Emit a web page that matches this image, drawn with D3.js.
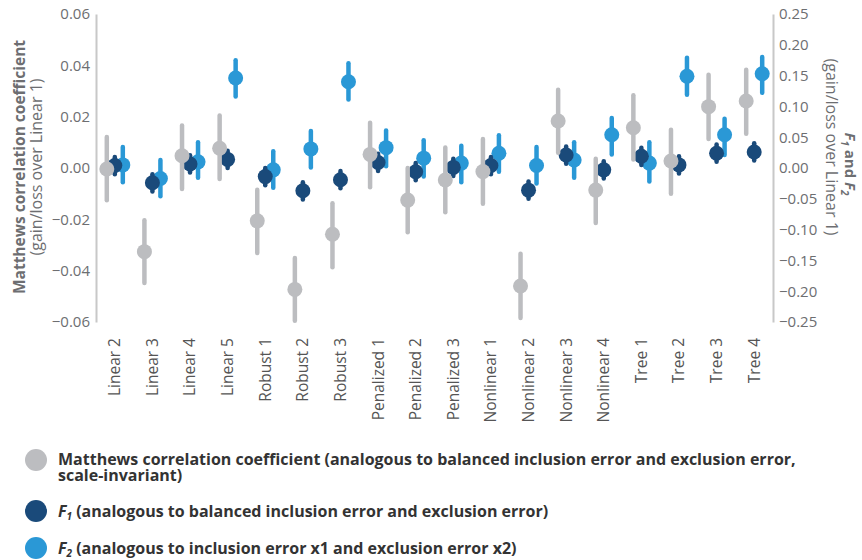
<!DOCTYPE html>
<html><head><meta charset="utf-8">
<script src="https://cdn.jsdelivr.net/npm/d3@7"></script>
<style>
body{margin:0;background:#fff;}
text{font-family:"Open Sans",sans-serif;}
</style></head>
<body><svg id="c" width="862" height="560"></svg>
<script>
const categories = ["Linear 2","Linear 3","Linear 4","Linear 5","Robust 1","Robust 2","Robust 3","Penalized 1","Penalized 2","Penalized 3","Nonlinear 1","Nonlinear 2","Nonlinear 3","Nonlinear 4","Tree 1","Tree 2","Tree 3","Tree 4"];
// Matthews correlation coefficient (left axis)
const mccValue = [-0.0004,-0.0326,0.0048,0.0077,-0.0206,-0.0473,-0.0258,0.0053,-0.0125,-0.0047,-0.0014,-0.0460,0.0183,-0.0086,0.0157,0.0027,0.0239,0.0261];
const mccLow   = [-0.0126,-0.0448,-0.0082,-0.0043,-0.0331,-0.0595,-0.0387,-0.0075,-0.0250,-0.0172,-0.0139,-0.0584,0.0059,-0.0214,0.0033,-0.0100,0.0113,0.0133];
const mccHigh  = [0.0121,-0.0204,0.0166,0.0205,-0.0085,-0.0351,-0.0137,0.0176,0.0000,0.0080,0.0113,-0.0334,0.0305,0.0036,0.0283,0.0149,0.0363,0.0383];
// F1 (right axis)
const f1Value = [0.004,-0.024,0.0065,0.014,-0.014,-0.037,-0.019,0.009,-0.006,0.001,0.004,-0.036,0.021,-0.003,0.019,0.005,0.024,0.026];
const f1Low   = [-0.010,-0.038,-0.0075,0.000,-0.028,-0.051,-0.033,-0.005,-0.020,-0.013,-0.010,-0.050,0.007,-0.017,0.005,-0.009,0.010,0.012];
const f1High  = [0.018,-0.010,0.0205,0.028,0.000,-0.023,-0.005,0.023,0.008,0.015,0.018,-0.022,0.035,0.011,0.033,0.019,0.038,0.040];
// F2 (right axis)
const f2Value = [0.005,-0.017,0.010,0.146,-0.003,0.031,0.140,0.033,0.016,0.008,0.024,0.004,0.013,0.054,0.008,0.149,0.054,0.153];
const f2Low   = [-0.023,-0.046,-0.016,0.116,-0.032,0.001,0.111,0.003,-0.014,-0.023,-0.006,-0.025,-0.016,0.022,-0.022,0.119,0.021,0.122];
const f2High  = [0.034,0.013,0.042,0.175,0.027,0.060,0.170,0.061,0.045,0.036,0.053,0.034,0.042,0.081,0.042,0.179,0.080,0.180];
const leftTicks = [-0.06,-0.04,-0.02,0,0.02,0.04,0.06];
const rightTicks = [-0.25,-0.2,-0.15,-0.1,-0.05,0,0.05,0.1,0.15,0.2,0.25];

const svg = d3.select("#c");
const x = d3.scaleBand().domain(categories).range([96,773]).padding(0);
const yL = d3.scaleLinear().domain([-0.06,0.06]).range([322,14]);
const yR = d3.scaleLinear().domain([-0.25,0.25]).range([322,14]);
const C_GRAY = "#bcbdc0", C_DARK = "#1a4a7a", C_LIGHT = "#2a98d6";
const tickCol = "#6d6e71";

// axes
const axL = svg.append("g").attr("transform","translate(96,0)")
  .call(d3.axisLeft(yL).tickValues(leftTicks).tickFormat(d3.format(".2f")).tickSize(0).tickPadding(6));
const axR = svg.append("g").attr("transform","translate(773,0)")
  .call(d3.axisRight(yR).tickValues(rightTicks).tickFormat(d3.format(".2f")).tickSize(0).tickPadding(6));
[axL,axR].forEach(a=>{
  a.select(".domain").attr("stroke","#c8c8c8").attr("stroke-width",2);
  a.selectAll("text").attr("fill",tickCol).style("font-size","15px").style("font-family","Open Sans");
});
const axB = svg.append("g").attr("transform","translate(0,322)")
  .call(d3.axisBottom(x).tickSize(0).tickPadding(0));
axB.select(".domain").remove();
axB.selectAll("text")
  .attr("transform","rotate(-90)")
  .attr("x",-16).attr("y",0).attr("dy","0.35em")
  .attr("text-anchor","end")
  .attr("fill","#555").style("font-size","15.5px").style("font-family","Open Sans");

// axis titles
svg.append("text").attr("transform","translate(20,167) rotate(-90)").attr("dy","0.35em")
  .attr("text-anchor","middle").attr("fill",tickCol).style("font-weight","700").style("font-size","15.5px")
  .text("Matthews correlation coefficient");
svg.append("text").attr("transform","translate(36,167) rotate(-90)").attr("dy","0.35em")
  .attr("text-anchor","middle").attr("fill",tickCol).style("font-size","16px")
  .text("(gain/loss over Linear 1)");
const rt = svg.append("text").attr("transform","translate(850,164) rotate(90)").attr("dy","0.35em")
  .attr("text-anchor","middle").attr("fill",tickCol).style("font-weight","700").style("font-size","15px");
rt.append("tspan").style("font-style","italic").text("F");
rt.append("tspan").style("font-style","italic").style("font-size","10px").attr("dy","4").text("1");
rt.append("tspan").attr("dy","-4").text(" and ");
rt.append("tspan").style("font-style","italic").text("F");
rt.append("tspan").style("font-style","italic").style("font-size","10px").attr("dy","4").text("2");
svg.append("text").attr("transform","translate(832,147) rotate(90)").attr("dy","0.35em")
  .attr("text-anchor","middle").attr("fill",tickCol).style("font-size","16px")
  .text("(gain/loss over Linear 1)");

// series
const series = [
  {vals:f2Value, lo:f2Low, hi:f2High, y:yR, col:C_LIGHT, off:8},
  {vals:f1Value, lo:f1Low, hi:f1High, y:yR, col:C_DARK, off:0},
  {vals:mccValue, lo:mccLow, hi:mccHigh, y:yL, col:C_GRAY, off:-8}
];
const bw = x.bandwidth();
series.forEach(s=>{
  const g = svg.append("g");
  const data = categories.map((c,i)=>({c, v:s.vals[i], lo:s.lo[i], hi:s.hi[i]}));
  g.selectAll("line").data(data).join("line")
    .attr("x1",d=>x(d.c)+bw/2+s.off).attr("x2",d=>x(d.c)+bw/2+s.off)
    .attr("y1",d=>s.y(d.lo)).attr("y2",d=>s.y(d.hi))
    .attr("stroke",s.col).attr("stroke-width",4.5).attr("stroke-linecap","round");
  g.selectAll("circle").data(data).join("circle")
    .attr("cx",d=>x(d.c)+bw/2+s.off).attr("cy",d=>s.y(d.v)).attr("r",7.5)
    .attr("fill",s.col);
});

// legend
const leg = svg.append("g");
const legFont = "16px";
leg.append("circle").attr("cx",36).attr("cy",460).attr("r",11).attr("fill",C_GRAY);
leg.append("circle").attr("cx",36).attr("cy",511).attr("r",11).attr("fill",C_DARK);
leg.append("circle").attr("cx",36).attr("cy",548).attr("r",11).attr("fill",C_LIGHT);
const l1 = leg.append("text").attr("x",58).attr("y",465).attr("fill","#333").style("font-weight","700").style("font-size",legFont);
l1.append("tspan").attr("x",58).text("Matthews correlation coefficient (analogous to balanced inclusion error and exclusion error,");
l1.append("tspan").attr("x",58).attr("dy",16).text("scale-invariant)");
function fLeg(y, sub, rest){
  const t = leg.append("text").attr("x",58).attr("y",y).attr("fill","#333").style("font-weight","700").style("font-size",legFont);
  t.append("tspan").style("font-style","italic").text("F");
  t.append("tspan").style("font-style","italic").style("font-size","10px").attr("dy","3").text(sub);
  t.append("tspan").attr("dy","-3").text(rest);
}
fLeg(517,"1"," (analogous to balanced inclusion error and exclusion error)");
fLeg(554,"2"," (analogous to inclusion error x1 and exclusion error x2)");
</script></body></html>
